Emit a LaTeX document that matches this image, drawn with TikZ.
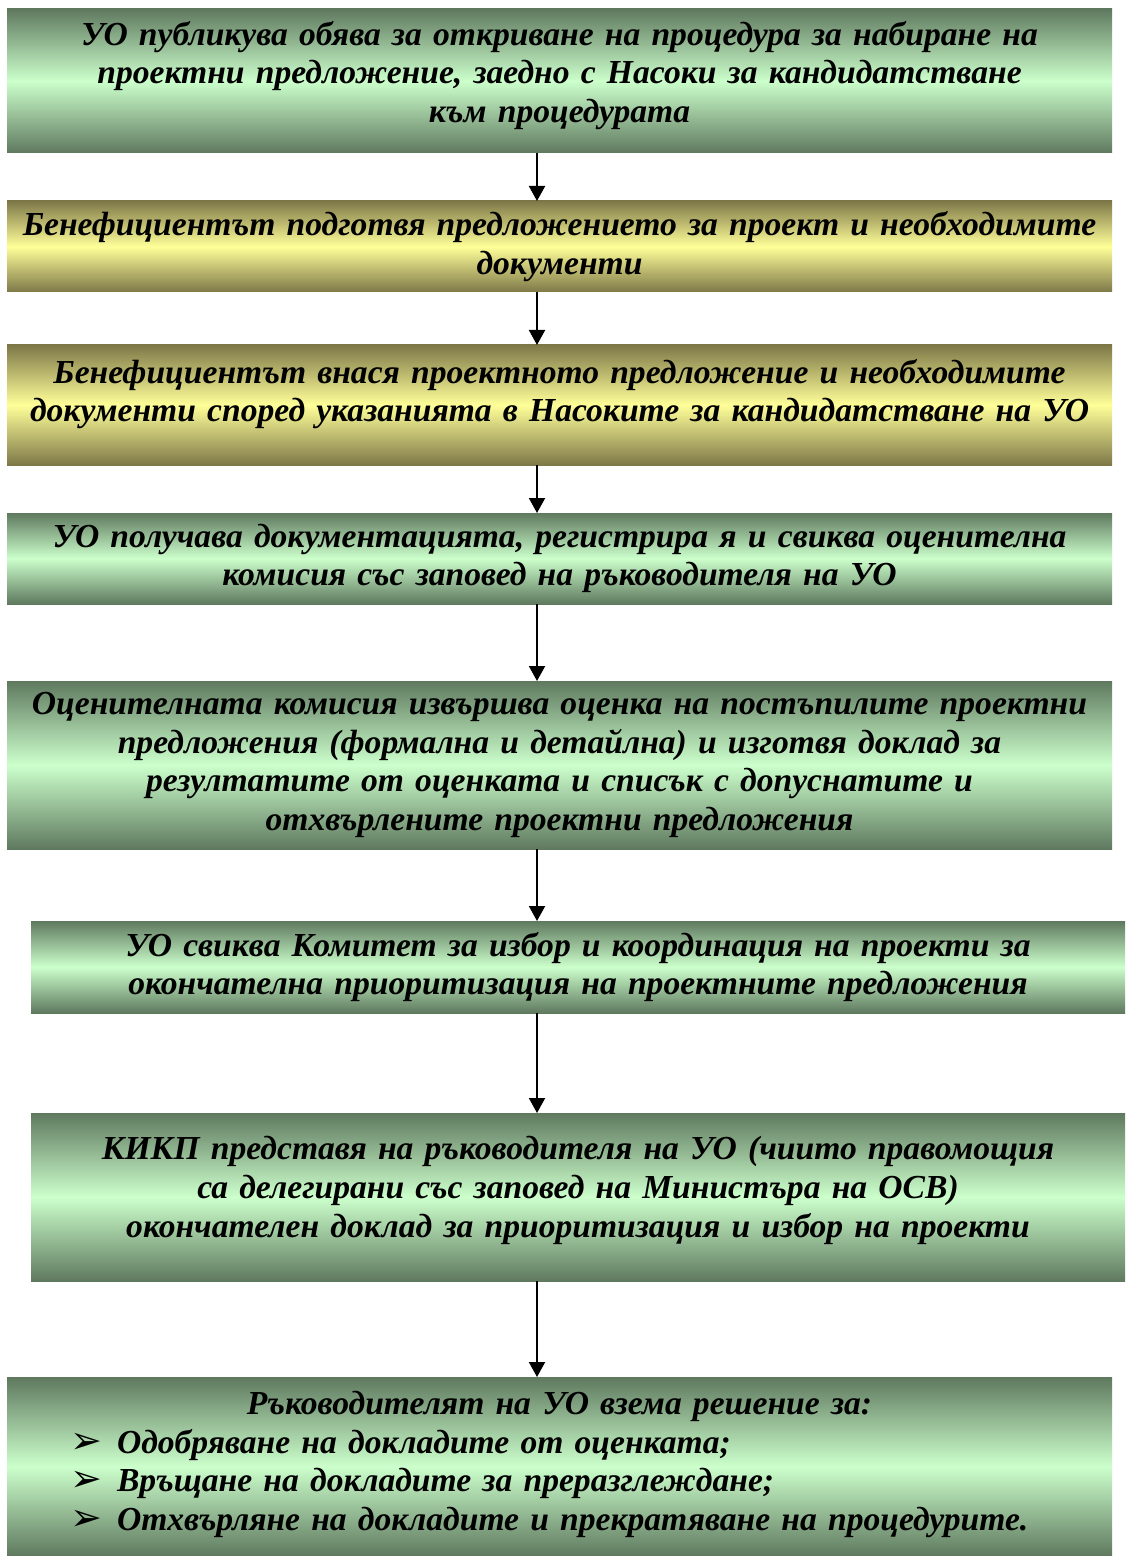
\documentclass[tikz,border=0pt]{standalone}
\usepackage{fontspec}
\setmainfont{Liberation Serif}
\newfontfamily\symfont{DejaVu Sans}
\usetikzlibrary{
  arrows.meta,
  positioning,  % Function "of" (e.g. [below=of x])
}
\definecolor{grdark}{RGB}{95,121,95}
\definecolor{grlight}{RGB}{204,255,204}
\definecolor{yedark}{RGB}{126,120,72}
\definecolor{yelight}{RGB}{255,255,153}
\newcommand{\bul}{\hspace*{25.5pt}\makebox[23.25pt][l]{\symfont\mdseries\upshape\fontsize{19}{19}\selectfont ➢}}
\newcommand{\lift}[1]{\par\kern#1}  % raises the text by half of #1
\def\arrowx{268.5pt}
\tikzset{
  semithick,
  >={Triangle[length=7.5pt,width=8pt]},
  my box/.style={
    rectangle,
    draw=none,
    outer sep=0pt,
    inner xsep=6.25pt,
    inner ysep=0pt,
    align=center,
    text width=540pt,
    font=\bfseries\itshape\fontsize{16.8}{19.3}\selectfont
  },
  green box/.style={
    my box,
    top color=grdark,
    bottom color=grdark,
    middle color=grlight
  },
  yellow box/.style={
    my box,
    top color=yedark,
    bottom color=yedark,
    middle color=yelight
  },
  narrow/.style={
    text width=534.5pt
  },
  flow/.style={
    ->,
    line width=1pt
  }
}
\begin{document}
\begin{tikzpicture}
\useasboundingbox (0,0) rectangle (562.5pt,-778pt);
\coordinate (ax) at (\arrowx,0);
\node[green box,minimum height=72pt] (1) at (279.75pt,-40.5pt)
  {УО публикува обява за откриване на процедура за набиране на\\
   проектни предложение, заедно с Насоки за кандидатстване\\
   към процедурата\lift{5.5pt}};
\node[yellow box,minimum height=45.5pt] (2) [below=24pt of 1]
  {Бенефициентът подготвя предложението за проект и необходимите\\
   документи};
\node[yellow box,minimum height=60pt] (3) [below=26.5pt of 2]
  {Бенефициентът внася проектното предложение и необходимите\\
   документи според указанията в Насоките за кандидатстване на УО\lift{11pt}};
\node[green box,minimum height=45.5pt] (4) [below=24pt of 3]
  {УО получава документацията, регистрира я и свиква оценителна\\
   комисия със заповед на ръководителя на УО};
\node[green box,minimum height=84pt] (5) [below=38.5pt of 4]
  {Оценителната комисия извършва оценка на постъпилите проектни\\
   предложения (формална и детайлна) и изготвя доклад за\\
   резултатите от оценката и списък с допуснатите и\\
   отхвърлените проектни предложения};
\node[green box,narrow,minimum height=46pt] (6) [below=36pt of 5,xshift=9.25pt]
  {УО свиква Комитет за избор и координация на проекти за\\
   окончателна приоритизация на проектните предложения};
\node[green box,narrow,minimum height=84pt] (7) [below=50pt of 6]
  {КИКП представя на ръководителя на УО (чиито правомощия\\
   са делегирани със заповед на Министъра на ОСВ)\\
   окончателен доклад за приоритизация и избор на проекти\lift{6.5pt}};
\node[green box,align=left,minimum height=89.5pt] (8) [below=48pt of 7,xshift=-9.25pt]
  {\centering Ръководителят на УО взема решение за:\par
   \raggedright
   \bul Одобряване на докладите от оценката;\\
   \bul Връщане на докладите за преразглеждане;\\
   \bul Отхвърляне на докладите и прекратяване на процедурите.\lift{2pt}};
\foreach \a/\b in {1/2,2/3,3/4,4/5,5/6,6/7,7/8}
  \draw[flow] (\a.south -| ax) -- (\b.north -| ax);
\end{tikzpicture}
\end{document}
